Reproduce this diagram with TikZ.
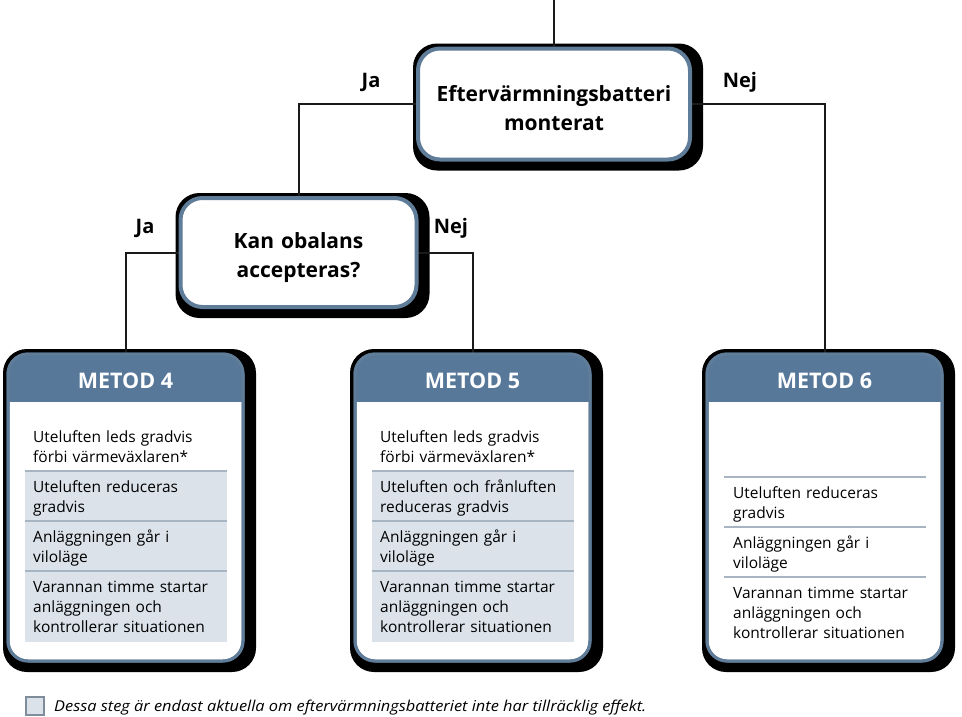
\documentclass[tikz,border=0pt]{standalone}
\usepackage{fontspec}
\setmainfont{Open Sans}
\usetikzlibrary{calc,backgrounds}
\definecolor{hdr}{HTML}{58789A}
\definecolor{bord}{HTML}{5F7C98}
\definecolor{rowshade}{HTML}{DCE2EA}
\definecolor{sepc}{HTML}{A7B4C2}
\definecolor{linec}{HTML}{1A1A1A}
\definecolor{legb}{HTML}{7F8C99}
\begin{document}
\begin{tikzpicture}[x=1pt,y=-1pt,
  conn/.style={draw=linec,line width=2pt},
  decision/.style={draw=bord,line width=4pt,fill=white,rounded corners=22pt,inner sep=0pt,outer sep=0pt},
  dtext/.style={font=\fontsize{21}{29}\selectfont\bfseries,text width=270pt,align=center,inner sep=0pt,anchor=base},
  mbox/.style={draw=bord,line width=3pt,fill=white,rounded corners=20pt,inner sep=0pt,outer sep=0pt,minimum width=235pt,minimum height=307pt},
  mtitle/.style={font=\fontsize{21.5}{26}\selectfont\bfseries,text=white,anchor=base,inner sep=0pt},
  rowtext/.style={font=\fontsize{15.5}{20}\selectfont,text width=230pt,align=left,anchor=base west,inner sep=0pt},
  yesno/.style={font=\fontsize{20}{22}\selectfont\bfseries,inner sep=0pt},
  shadowfill/.style={fill=black,rounded corners=24pt},
  seprule/.style={draw=sepc,line width=2pt}]
\useasboundingbox (0,0) rectangle (962,716);

% decision boxes
\node[decision,minimum width=272pt,minimum height=111pt] (top) at (554,104) {};
\node[dtext] (toptxt) at (554,101.5) {Eftervärmningsbatteri\\monterat};
\node[decision,minimum width=236pt,minimum height=109pt] (kan) at (298.5,252.5) {};
\node[dtext] (kantxt) at (298.5,248.5) {Kan obalans\\accepteras?};

% method boxes
\node[mbox] (m4) at (125.5,507.5) {};
\node[mbox] (m5) at (472.5,507.5) {};
\node[mbox] (m6) at (824.5,507.5) {};

\foreach \m in {m4,m5,m6}{
  \begin{scope}
    \clip[rounded corners=20pt] (\m.south west) rectangle (\m.north east);
    \fill[hdr] (\m.north west) rectangle ($(\m.north east)+(0,48)$);
  \end{scope}
  \draw[bord,line width=3pt,rounded corners=20pt] (\m.south west) rectangle (\m.north east);
}

\node[mtitle] (t4) at (125.5,388) {METOD 4};
\node[mtitle] (t5) at (472.5,388) {METOD 5};
\node[mtitle] (t6) at (824.5,388) {METOD 6};

% METOD 4 rows
\fill[rowshade] (25,471) rectangle (227,642);
\draw[seprule] (25,471) -- (227,471);
\draw[seprule] (25,521) -- (227,521);
\draw[seprule] (25,571) -- (227,571);
\node[rowtext] (m4r1) at (33,442) {Uteluften leds gradvis\\förbi värmeväxlaren*};
\node[rowtext] (m4r2) at (33,492) {Uteluften reduceras\\gradvis};
\node[rowtext] (m4r3) at (33,542) {Anläggningen går i\\viloläge};
\node[rowtext] (m4r4) at (33,592) {Varannan timme startar\\anläggningen och\\kontrollerar situationen};

% METOD 5 rows
\fill[rowshade] (372,471) rectangle (574,642);
\draw[seprule] (372,471) -- (574,471);
\draw[seprule] (372,521) -- (574,521);
\draw[seprule] (372,571) -- (574,571);
\node[rowtext] (m5r1) at (380,442) {Uteluften leds gradvis\\förbi värmeväxlaren*};
\node[rowtext] (m5r2) at (380,492) {Uteluften och frånluften\\reduceras gradvis};
\node[rowtext] (m5r3) at (380,542) {Anläggningen går i\\viloläge};
\node[rowtext] (m5r4) at (380,592) {Varannan timme startar\\anläggningen och\\kontrollerar situationen};

% METOD 6 rows
\draw[seprule] (724,477) -- (926,477);
\draw[seprule] (724,527) -- (926,527);
\draw[seprule] (724,577) -- (926,577);
\node[rowtext] (m6r2) at (733,498) {Uteluften reduceras\\gradvis};
\node[rowtext] (m6r3) at (733,548) {Anläggningen går i\\viloläge};
\node[rowtext] (m6r4) at (733,598) {Varannan timme startar\\anläggningen och\\kontrollerar situationen};

% labels
\node[yesno] (ja1) at (371,82) {Ja};
\node[yesno] (nej1) at (740,82) {Nej};
\node[yesno] (ja2) at (145,228) {Ja};
\node[yesno] (nej2) at (451,228) {Nej};

% legend
\node[draw=legb,fill=rowshade,minimum size=18pt,inner sep=0pt,line width=1.2pt] (leg) at (35,706) {};
\node[font=\fontsize{15}{17}\selectfont\itshape,anchor=base west,inner sep=0pt] (legtxt) at (54,711) {\scalebox{1.09}[1]{Dessa steg är endast aktuella om eftervärmningsbatteriet inte har tillräcklig effekt.}};

\coordinate (entry) at (553.5,0);

\begin{scope}[on background layer]
  \fill[white] (0,0) rectangle (962,716);
  \foreach \n in {top,kan,m4,m5,m6}{
    \fill[shadowfill] ($(\n.north west)+(-5,-5)$) rectangle ($(\n.south east)+(13,11)$);
  }
  \draw[conn] (entry) -- (entry |- top.north);
  \draw[conn] (top.west) -| (kan.north);
  \draw[conn] (top.east) -| (m6.north);
  \draw[conn] (kan.west) -| (m4.north);
  \draw[conn] (kan.east) -| (m5.north);
\end{scope}
\end{tikzpicture}
\end{document}
